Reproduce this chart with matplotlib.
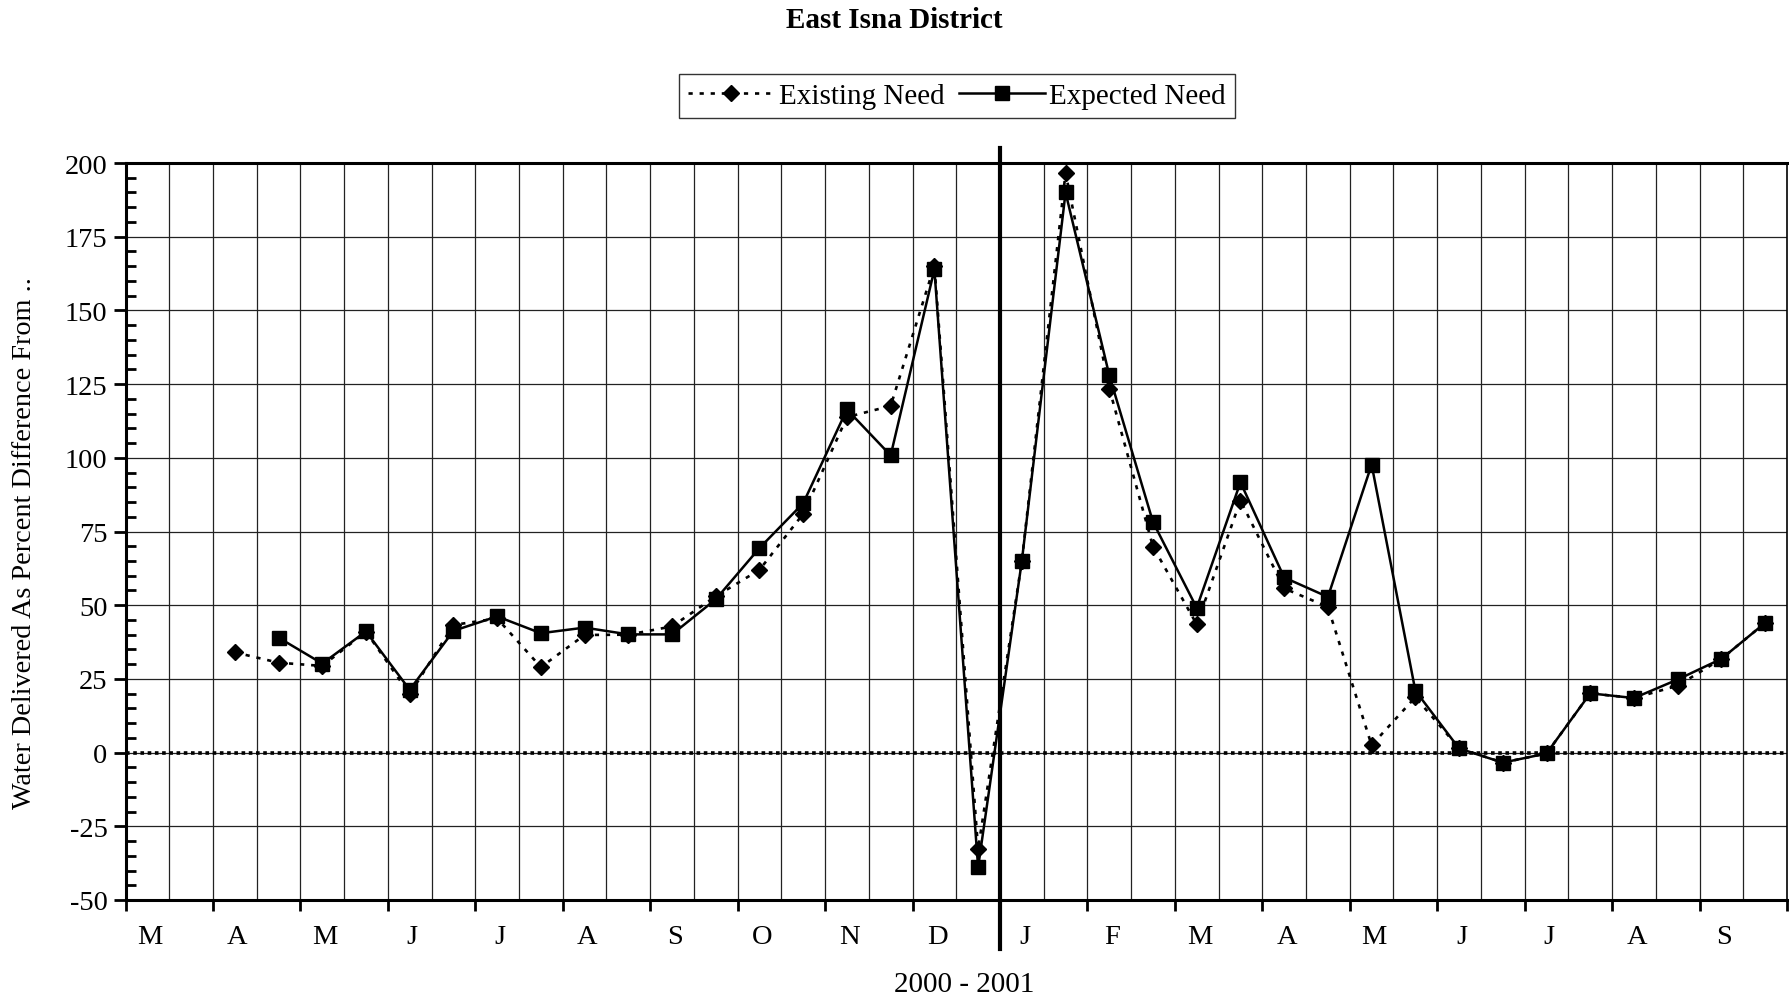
import numpy as np
import matplotlib
matplotlib.use("Agg")
import matplotlib.pyplot as plt
from matplotlib.ticker import MultipleLocator, FixedLocator
import matplotlib.transforms as mtransforms

plt.rcParams['font.family'] = ['Liberation Serif', 'DejaVu Serif']
plt.rcParams['axes.unicode_minus'] = False

# ---- data (half-month periods, starting March 2000) ----
month_labels = ['M', 'A', 'M', 'J', 'J', 'A', 'S', 'O', 'N', 'D',
                'J', 'F', 'M', 'A', 'M', 'J', 'J', 'A', 'S']
nan = np.nan
existing_need = [nan, nan, 34, 30.5, 29.4, 41, 19.8, 43.3, 45.5, 29,
                 39.9, 40, 42.8, 53, 62, 81, 113.8, 117.6, 165.2, -32.8,
                 65, 196.6, 123.5, 69.9, 43.5, 85.5, 55.7, 49.4, 2.5, 18.8,
                 1.5, -3.4, -0.3, 20.1, 18.5, 22.7, 31.8, 44]
expected_need = [nan, nan, nan, 39, 30.2, 41.1, 21.3, 41.3, 46.2, 40.5,
                 42.4, 40.1, 40.1, 52, 69.4, 84.6, 116.4, 100.8, 163.9, -38.9,
                 65, 190, 128, 78.2, 49.1, 91.7, 59.4, 52.8, 97.7, 21,
                 1.4, -3.4, -0.3, 20.1, 18.5, 24.8, 31.8, 44]
title = "East Isna District"
xlabel = "2000 - 2001"
ylabel = "Water Delivered As Percent Difference From .."
year_break = 10  # months from start where 2001 begins

n_half = len(existing_need)
x = (np.arange(n_half) + 0.5) / 2.0
n_months = len(month_labels)

W, H = 1789, 1004
fig = plt.figure(figsize=(W / 100, H / 100), dpi=100)
ax = fig.add_axes([125.5 / W, 1 - 901 / H, (1787 - 125.5) / W, (901 - 164) / H])

ax.set_xlim(0, n_months)
ax.set_ylim(-50, 200)

# grid
grid_kw = dict(color='#222222', lw=0.9, zorder=1)
for k in np.arange(0.5, n_months, 0.5):
    ax.axvline(k, **grid_kw)
for v in np.arange(-25, 200, 25):
    ax.axhline(v, **grid_kw)

# zero line
ax.axhline(0, color='black', lw=2.6, ls=(0, (1, 1)), zorder=2)

# year separator extends beyond axes
trans = mtransforms.blended_transform_factory(ax.transData, ax.transAxes)
ax.plot([year_break, year_break], [-0.066, 1.02], transform=trans,
        color='black', lw=3, clip_on=False, zorder=3)

# series
ax.plot(x, existing_need, color='black', lw=1.9, ls=(0, (1.6, 2.6)),
        marker='D', markersize=7.8, zorder=4, label='Existing Need')
ax.plot(x, expected_need, color='black', lw=1.8, ls='-',
        marker='s', markersize=10, zorder=5, label='Expected Need')

# spines
for s in ['left', 'bottom', 'top']:
    ax.spines[s].set_linewidth(2.2)
ax.spines['right'].set_linewidth(1.2)

# y ticks
ax.yaxis.set_major_locator(MultipleLocator(25))
ax.yaxis.set_minor_locator(MultipleLocator(5))
ax.tick_params(axis='y', which='major', direction='out', length=9, width=2,
               labelsize=20.5, pad=4)
ax.tick_params(axis='y', which='minor', direction='in', length=7, width=2)

# x ticks: month boundaries, labels offset
ax.xaxis.set_major_locator(FixedLocator(np.arange(0, n_months + 1)))
ax.xaxis.set_minor_locator(FixedLocator(np.arange(n_months) + 0.28))
ax.set_xticklabels([''] * (n_months + 1))
ax.set_xticklabels(month_labels, minor=True)
ax.tick_params(axis='x', which='major', direction='out', length=8, width=2)
ax.tick_params(axis='x', which='minor', length=0, labelsize=20.5, pad=17)

fig.text(0.5, 1 - 20.5 / H, title,
         ha='center', va='center', fontsize=21, fontweight='bold')
fig.text(964 / W, 1 - 985 / H, xlabel, ha='center', va='center', fontsize=21)
fig.text(25 / W, 1 - 543 / H, ylabel, ha='center', va='center',
         rotation=90, fontsize=20.3)

leg = fig.legend(loc='center', bbox_to_anchor=(957 / W, 1 - 97 / H), ncol=2,
                 fontsize=21, frameon=True, fancybox=False, handlelength=2.95,
                 handletextpad=0.15, columnspacing=0.5, borderpad=0.3,
                 borderaxespad=0)
leg.get_frame().set_edgecolor('black')
leg.get_frame().set_linewidth(1.0)

fig.savefig('out.png', dpi=100)
